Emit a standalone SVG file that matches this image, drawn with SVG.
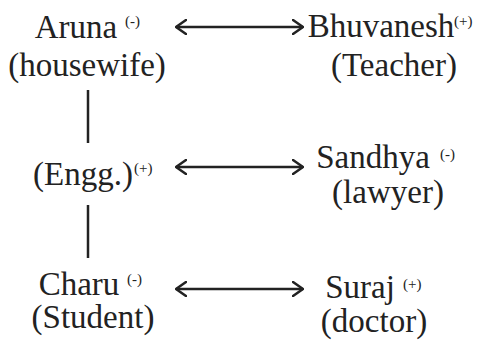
<svg xmlns="http://www.w3.org/2000/svg" width="482" height="343" viewBox="0 0 482 343">
<defs>
<style>
.t{font-family:"Liberation Serif","Times New Roman",serif;font-size:33px;fill:#222;text-anchor:middle}
.s{font-family:"Liberation Serif","Times New Roman",serif;font-size:15px;fill:#222;text-anchor:start}
.c{stroke:#222;stroke-width:2.5;fill:none}
</style>
<marker id="ah" viewBox="0 0 12 16" refX="11" refY="8" markerWidth="12" markerHeight="16" markerUnits="userSpaceOnUse" orient="auto-start-reverse">
<path d="M1,1 L11,8 L1,15" fill="none" stroke="#222" stroke-width="2.5" stroke-linecap="round" stroke-linejoin="round"/>
</marker>
</defs>
<rect width="482" height="343" fill="#fff"/>
<g id="connectors">
<line class="c" x1="176" y1="27" x2="303" y2="27" marker-start="url(#ah)" marker-end="url(#ah)"/>
<line class="c" x1="176" y1="167" x2="303" y2="167" marker-start="url(#ah)" marker-end="url(#ah)"/>
<line class="c" x1="176" y1="289" x2="303" y2="289" marker-start="url(#ah)" marker-end="url(#ah)"/>
<line class="c" x1="88" y1="90" x2="88" y2="143"/>
<line class="c" x1="88" y1="205" x2="88" y2="258"/>
</g>
<g id="aruna">
<text class="t" x="76" y="38">Aruna</text>
<text class="s" x="125" y="26">(-)</text>
<text class="t" x="87" y="76">(housewife)</text>
</g>
<g id="bhuvanesh">
<text class="t" x="381" y="37">Bhuvanesh</text>
<text class="s" x="454" y="26">(+)</text>
<text class="t" x="394" y="76">(Teacher)</text>
</g>
<g id="engg">
<text class="t" x="83" y="185">(Engg.)</text>
<text class="s" x="134" y="173">(+)</text>
</g>
<g id="sandhya">
<text class="t" x="373" y="168">Sandhya</text>
<text class="s" x="440" y="159">(-)</text>
<text class="t" x="388" y="203">(lawyer)</text>
</g>
<g id="charu">
<text class="t" x="79" y="295">Charu</text>
<text class="s" x="127" y="284">(-)</text>
<text class="t" x="93" y="328">(Student)</text>
</g>
<g id="suraj">
<text class="t" x="360" y="298">Suraj</text>
<text class="s" x="403" y="289">(+)</text>
<text class="t" x="374" y="332">(doctor)</text>
</g>
</svg>
